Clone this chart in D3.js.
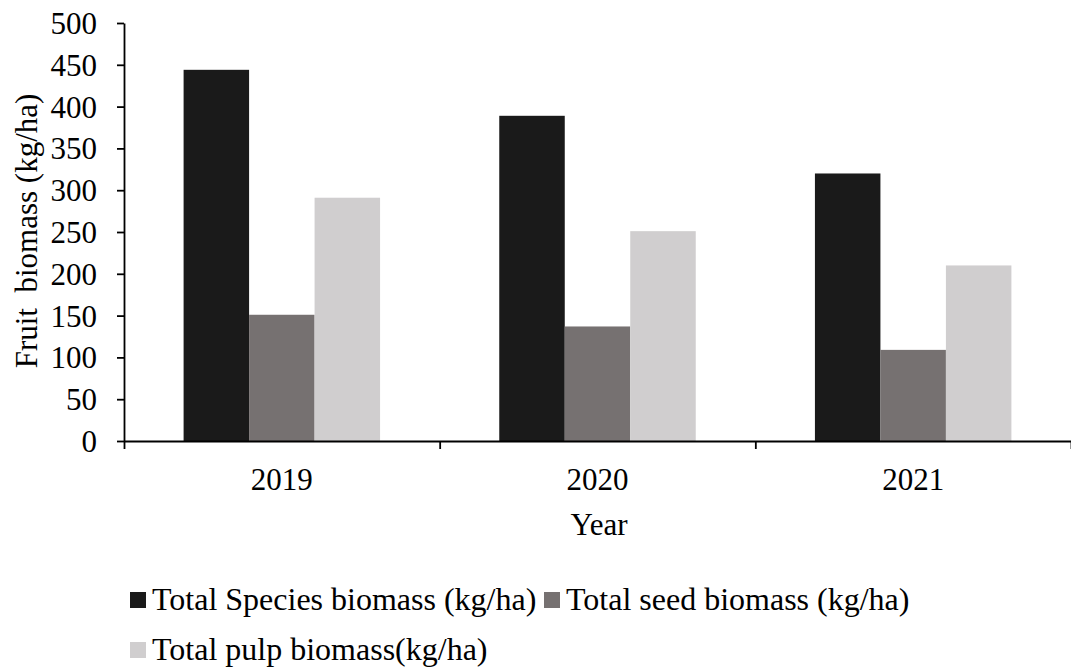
<!DOCTYPE html>
<html>
<head>
<meta charset="utf-8">
<script src="https://cdn.jsdelivr.net/npm/d3@7"></script>
<style>
  body { margin: 0; background: #fff; }
</style>
</head>
<body>
<svg id="chart" width="1071" height="668"></svg>
<script>
/* -------------------------------------------------------------------------- */
// data
const years = ['2019', '2020', '2021'];
const seriesNames = [
  'Total Species biomass (kg/ha)',
  'Total seed biomass (kg/ha)',
  'Total pulp biomass(kg/ha)'
];
const speciesBiomass = [444, 389, 320];
const seedBiomass = [151, 137, 109];
const pulpBiomass = [291, 251, 210];
const yTicks = [0, 50, 100, 150, 200, 250, 300, 350, 400, 450, 500];
const colors = ['#1a1a1a', '#767171', '#d0cecf'];

const seriesValues = [speciesBiomass, seedBiomass, pulpBiomass];

/* -------------------------------------------------------------------------- */
const svg = d3.select('#chart');
const plotLeft = 124, plotRight = 1071, plotTop = 23, plotBottom = 441;

const x0 = d3.scaleBand().domain(years).range([plotLeft, plotRight]).padding(0);
const x1 = d3.scaleBand().domain(d3.range(seriesNames.length))
  .range([0, x0.bandwidth()]).paddingInner(0).paddingOuter(0.91);
const xIdx = d3.scaleLinear().domain([0, years.length]).range([plotLeft, plotRight]);
const y = d3.scaleLinear().domain([0, 500]).range([plotBottom, plotTop]);

// bars
const groups = svg.append('g').selectAll('g')
  .data(years)
  .join('g')
  .attr('transform', d => `translate(${x0(d)},0)`);

groups.selectAll('rect')
  .data((d, i) => seriesValues.map((vals, s) => ({s: s, v: vals[i]})))
  .join('rect')
  .attr('x', d => x1(d.s))
  .attr('width', x1.bandwidth())
  .attr('y', d => y(d.v))
  .attr('height', d => y(0) - y(d.v))
  .attr('fill', d => colors[d.s]);

// y axis
const yAxis = svg.append('g')
  .attr('transform', `translate(${plotLeft},0)`)
  .call(d3.axisLeft(y).tickValues(yTicks).tickSize(7).tickPadding(20).tickSizeOuter(0));
yAxis.selectAll('text').attr('dy', '0.34em');

// x axis: boundary ticks + centred labels
const xAxis = svg.append('g')
  .attr('transform', `translate(0,${plotBottom})`)
  .call(d3.axisBottom(xIdx).tickValues(d3.range(years.length + 1)).tickFormat('').tickSize(8).tickSizeOuter(0));

const xLabels = svg.append('g')
  .attr('transform', `translate(0,${plotBottom})`)
  .call(d3.axisBottom(x0).tickSize(0).tickPadding(27));
xLabels.select('.domain').remove();

svg.selectAll('.domain, .tick line').attr('stroke', '#000').attr('stroke-width', 1.8);

// axis titles
svg.append('text')
  .attr('transform', `translate(37,231) rotate(-90)`)
  .attr('text-anchor', 'middle')
  .text('Fruit\u00a0 biomass (kg/ha)');

svg.append('text')
  .attr('x', 599)
  .attr('y', 535)
  .attr('text-anchor', 'middle')
  .text('Year');

// legend
const legendPos = [
  {x: 130, y: 610},
  {x: 544, y: 610},
  {x: 130, y: 660}
];
const legend = svg.append('g').selectAll('g')
  .data(seriesNames)
  .join('g')
  .attr('transform', (d, i) => `translate(${legendPos[i].x},${legendPos[i].y})`);

legend.append('rect')
  .attr('x', 0).attr('y', -18)
  .attr('width', 16).attr('height', 16)
  .attr('fill', (d, i) => colors[i]);

legend.append('text')
  .attr('class', 'leg')
  .attr('x', 22)
  .text(d => d);

svg.selectAll('text')
  .attr('font-family', 'Liberation Serif')
  .attr('fill', '#000')
  .attr('font-size', 31);
svg.selectAll('text.leg').attr('font-size', 32);
</script>
</body>
</html>
